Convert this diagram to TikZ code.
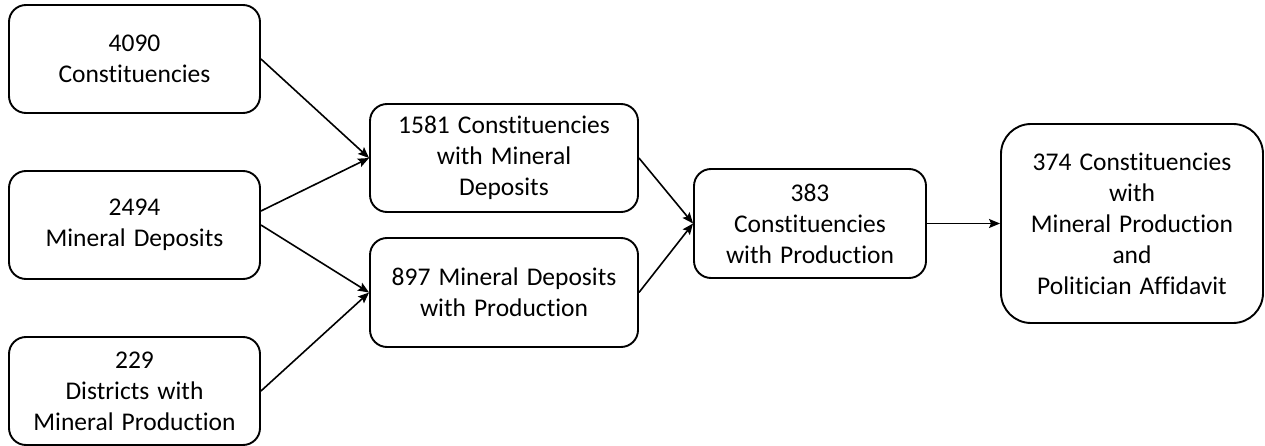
\documentclass[tikz,border=0pt]{standalone}
\usepackage{fontspec}
\setmainfont{Carlito}[RawFeature=-liga, WordSpace=1.4]
\usetikzlibrary{arrows.meta}
\begin{document}
\begin{tikzpicture}[x=1pt,y=-1pt,
  box/.style={draw=black, line width=1.9pt, rounded corners=17pt, align=center,
    inner sep=0pt, font=\fontsize{25.5}{31}\selectfont},
  conn/.style={line width=1.6pt, -{Stealth[length=11pt,width=9pt,inset=2pt]}}]
\useasboundingbox (0,0) rectangle (1265,446);
\node[box, minimum width=251pt, minimum height=108pt] (A) at (134.5,59) {4090\\Constituencies};
\node[box, minimum width=251pt, minimum height=108pt] (B) at (134.5,225) {2494\\Mineral Deposits};
\node[box, minimum width=251pt, minimum height=108pt] (C) at (134.5,391) {229\\Districts with\\Mineral Production};
\node[box, minimum width=268pt, minimum height=108pt] (D) at (504,158) {1581 Constituencies\\with Mineral\\Deposits};
\node[box, minimum width=268pt, minimum height=109pt] (E) at (504,292.5) {897 Mineral Deposits\\with Production};
\node[box, minimum width=232pt, minimum height=109pt] (F) at (810,223.5) {383\\Constituencies\\with Production};
\node[box, rounded corners=30pt, minimum width=262pt, minimum height=199pt] (G) at (1132,223.5) {374 Constituencies\\with\\Mineral Production\\and\\Politician Affidavit};
\draw[conn] (A.east) -- (D.west);
\draw[conn] ([yshift=14pt]B.east) -- (D.west);
\draw[conn] (B.east) -- (E.west);
\draw[conn] (C.east) -- (E.west);
\draw[conn] (D.east) -- (F.west);
\draw[conn] (E.east) -- (F.west);
\draw[conn] (F.east) -- (G.west);
\end{tikzpicture}
\end{document}
